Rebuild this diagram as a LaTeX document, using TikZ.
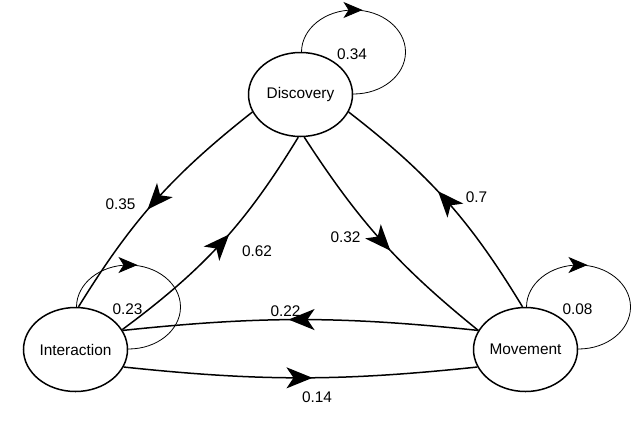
\documentclass[tikz,border=0pt]{standalone}
\usepackage{fontspec}
\setmainfont{Liberation Sans}
\usetikzlibrary{arrows.meta,decorations.markings,shapes.geometric}
\pgfdeclarelayer{background}
\pgfsetlayers{background,main}
\tikzset{
  state/.style={ellipse, draw, fill=white, line width=1.5pt, minimum width=104pt, minimum height=84pt, inner sep=0pt, font=\fontsize{15.4}{18}\selectfont},
  lbl/.style={inner sep=0pt, font=\fontsize{15.4}{18}\selectfont},
  edge/.style={line width=1.5pt, postaction={decorate}, decoration={markings, mark=at position 0.5 with {\arrow[xshift=12pt]{Stealth[length=26pt,width=21pt,inset=7pt]}}}},
  selfloop/.style={line width=0.8pt, postaction={decorate}, decoration={markings, mark=at position 0.25 with {\arrowreversed[xshift=-9pt]{Stealth[length=19pt,width=16pt,inset=5pt]}}}}
}
\begin{document}
\begin{tikzpicture}[x=1pt,y=1pt]
\useasboundingbox (0,0) rectangle (644,-421);
\node[state] (D) at (300.5,-94.5) {Discovery};
\node[state] (I) at (75.5,-349.5) {Interaction};
\node[state] (M) at (525.5,-349.5) {Movement};
\begin{pgfonlayer}{background}
\draw[selfloop] ([shift={(53pt,42.5pt)}]D.center) ellipse [x radius=52pt, y radius=42pt];
\draw[selfloop] ([shift={(53pt,42.5pt)}]I.center) ellipse [x radius=52pt, y radius=42pt];
\draw[selfloop] ([shift={(53pt,42.5pt)}]M.center) ellipse [x radius=52pt, y radius=42pt];
\end{pgfonlayer}
\draw[edge] (D.200) to[bend right=10] (I.86);
\draw[edge] (I.23) to[bend right=11] (D.267);
\draw[edge] (D.275) to[bend right=9] (M.158);
\draw[edge] (M.94) to[bend right=10.5] (D.340);
\draw[edge] (M.158) to[bend right=6] (I.22);
\draw[edge] (I.340) to[bend right=6] (M.200);
\node[lbl] (l34) at (352,-54) {0.34};
\node[lbl] (l35) at (120.5,-204) {0.35};
\node[lbl] (l62) at (257,-251) {0.62};
\node[lbl] (l32) at (345.5,-237) {0.32};
\node[lbl] (l7) at (476.5,-197) {0.7};
\node[lbl] (l22) at (285.5,-311) {0.22};
\node[lbl] (l14) at (317,-397) {0.14};
\node[lbl] (l23) at (127.5,-309) {0.23};
\node[lbl] (l08) at (577.5,-309) {0.08};
\end{tikzpicture}
\end{document}
